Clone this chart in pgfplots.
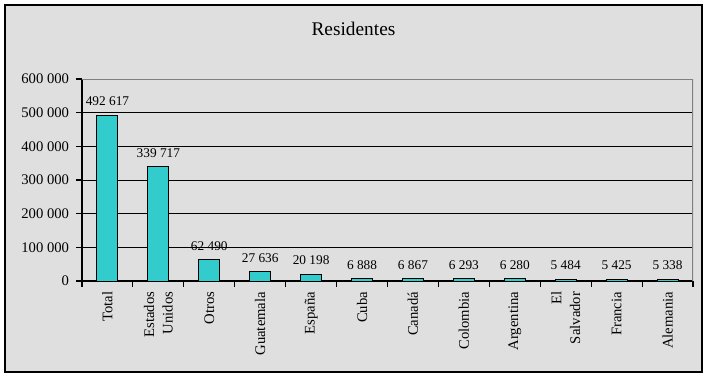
\documentclass[border=0pt]{standalone}
\usepackage{fontspec}
\setmainfont{Liberation Serif}
\usepackage{pgfplots}
\pgfplotsset{compat=1.18}
\definecolor{bg}{HTML}{DFDFDF}
\definecolor{barc}{HTML}{33CCCC}
\definecolor{framec}{HTML}{808080}
\begin{document}
\begin{tikzpicture}
\path[fill=white] (0pt,0pt) rectangle (531pt,282.75pt);
\draw[black, line width=0.9pt, fill=bg] (3.75pt,3.75pt) rectangle (526.5pt,279pt);
\node[font=\fontsize{14.5}{17}\selectfont, anchor=base, inner sep=0pt] at (265.1pt,255.75pt) {Residentes};
\begin{axis}[
  at={(61.5pt,72pt)}, anchor=south west, scale only axis,
  width=458.25pt, height=151.5pt,
  xmin=-0.5, xmax=11.5, ymin=0, ymax=600000,
  axis x line*=bottom, axis y line*=left,
  axis line style={black, line width=0.8pt},
  ytick={0,100000,200000,300000,400000,500000,600000},
  scaled y ticks=false,
  yticklabel style={font=\fontsize{11}{13}\selectfont, anchor=east, inner sep=0pt, xshift=-5pt,
    /pgf/number format/.cd, fixed, precision=0, 1000 sep={\ }, assume math mode=true},
  ymajorgrids, major grid style={black, line width=0.7pt},
  tick align=outside, major tick length=4.5pt,
  tick style={black, line width=0.8pt},
  xtick={-0.5,0.5,1.5,2.5,3.5,4.5,5.5,6.5,7.5,8.5,9.5,10.5,11.5},
  xticklabels={},
  extra x ticks={0,1,2,3,4,5,6,7,8,9,10,11},
  extra x tick labels={Total,{Estados\\Unidos},Otros,Guatemala,España,Cuba,Canadá,Colombia,Argentina,{El\\Salvador},Francia,Alemania},
  extra x tick style={major tick length=0pt, grid=none,
    tick label style={yshift=-8pt, rotate=90, anchor=east, align=right, inner sep=0pt,
      font=\fontsize{11}{14}\selectfont}},
  nodes near coords={\pgfmathprintnumber[fixed, precision=0, 1000 sep={\ }, assume math mode=true]{\pgfplotspointmeta}},
  nodes near coords style={font=\fontsize{10}{12}\selectfont, anchor=south, inner sep=0pt, yshift=6.5pt},
]
\addplot[ybar, bar width=15.75pt, fill=barc, draw=black, line width=0.7pt] coordinates {
  (0,492617) (1,339717) (2,62490) (3,27636) (4,20198) (5,6888)
  (6,6867) (7,6293) (8,6280) (9,5484) (10,5425) (11,5338)
};
\draw[framec, line width=0.9pt] (axis cs:-0.5,600000) -- (axis cs:11.5,600000) -- (axis cs:11.5,0);
\end{axis}
\end{tikzpicture}
\end{document}
